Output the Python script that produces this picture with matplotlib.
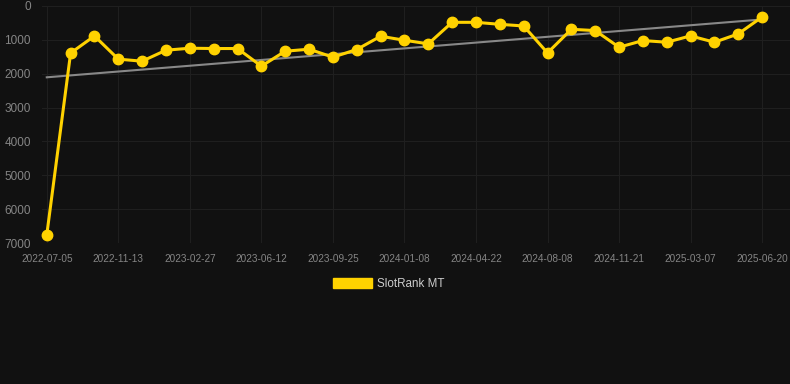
import numpy as np
import matplotlib.pyplot as plt

# data (rank, lower is better)
dates = ["2022-07-05", "2022-11-13", "2023-02-27", "2023-06-12", "2023-09-25", "2024-01-08",
         "2024-04-22", "2024-08-08", "2024-11-21", "2025-03-07", "2025-06-20"]
rank = [6760, 1390, 885, 1570, 1630, 1305, 1247, 1256, 1256, 1776, 1335,
        1276, 1511, 1285, 894, 1011, 1118, 482, 482, 541, 590, 1385,
        688, 726, 1217, 1021, 1070, 883, 1070, 824, 324]
y_ticks = [0, 1000, 2000, 3000, 4000, 5000, 6000, 7000]

bg = "#111111"
yellow = "#FFD200"
txt = "#858585"

plt.rcParams['font.family'] = ['Liberation Sans', 'DejaVu Sans']

fig = plt.figure(figsize=(7.9, 3.84), dpi=100, facecolor=bg)
ax = fig.add_axes([42 / 790, (384 - 243) / 384, 1 - 42 / 790, 237 / 384], facecolor=bg)

x = np.arange(len(rank))

# linear trend line
coef = np.polyfit(x, rank, 1)
ax.plot(x, np.polyval(coef, x), color="#888888", lw=1.5, zorder=2)

ax.plot(x, rank, color=yellow, lw=2.2, marker="o", markersize=7.5,
        clip_on=False, zorder=3, label="SlotRank MT")

ax.set_ylim(7000, 0)
ax.set_yticks(y_ticks)
ax.set_xlim(-0.2, 31.17)
ax.set_xticks(x[::3])
ax.set_xticklabels(dates)

ax.grid(True, color="#1f1f1f", lw=0.8)
ax.set_axisbelow(True)
for s in ax.spines.values():
    s.set_visible(False)
ax.tick_params(axis="both", length=0, colors=txt)
ax.tick_params(axis="y", labelsize=8.5, pad=8)
ax.tick_params(axis="x", labelsize=7.2, pad=8)

leg = fig.legend(handles=[plt.Rectangle((0, 0), 1, 1, color=yellow)], labels=["SlotRank MT"],
                 loc="center", bbox_to_anchor=(389 / 790, 1 - 284 / 384), frameon=False,
                 fontsize=8.4, handlelength=3.3, handleheight=1.0, handletextpad=0.5)
for t in leg.get_texts():
    t.set_color("#cccccc")

fig.savefig("out.png", facecolor=bg)
